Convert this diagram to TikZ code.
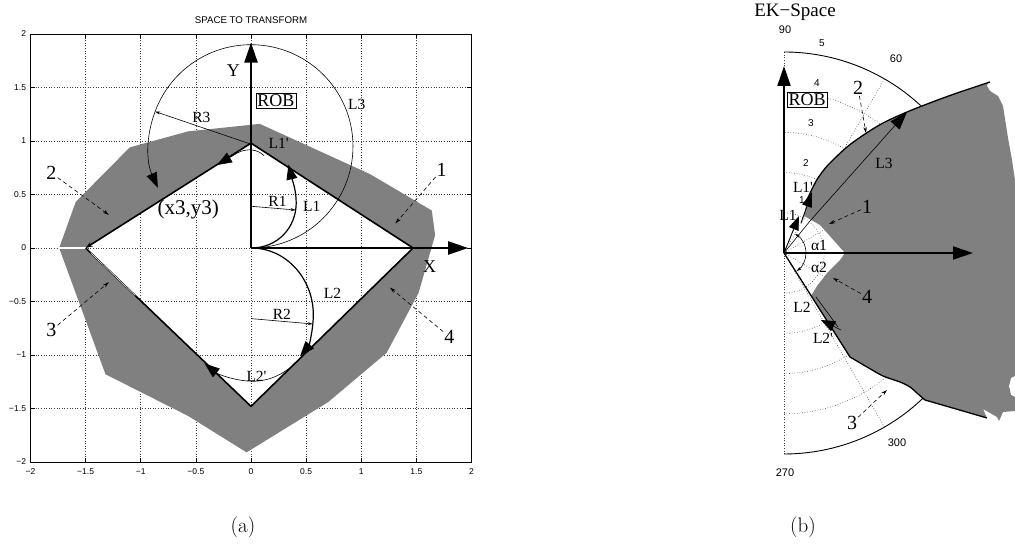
\documentclass[tikz,border=0pt]{standalone}
\usepackage{fontspec}
\usepackage{tikz}
\usetikzlibrary{arrows.meta, positioning, calc}
\newfontfamily\plotfont{Liberation Sans}
\newfontfamily\labfont{Liberation Serif}
\definecolor{regiongray}{HTML}{808080}

\begin{document}
\begin{tikzpicture}[
  x=1pt, y=1pt,
  img/.style={x=1pt, y=-1pt, yshift=545pt},
  ticklab/.style={font=\plotfont\fontsize{8.5}{9}\selectfont, inner sep=1pt},
  polarlab/.style={font=\plotfont\fontsize{11}{12}\selectfont, inner sep=0pt},
  radlab/.style={font=\plotfont\fontsize{10}{11}\selectfont, inner sep=0pt},
  biglab/.style={font=\labfont\fontsize{18}{19}\selectfont, inner sep=1pt},
  numlab/.style={font=\labfont\fontsize{20}{21}\selectfont, inner sep=1pt},
  lab/.style={font=\labfont\fontsize{15.5}{16}\selectfont, inner sep=0.5pt},
  sublab/.style={font=\fontsize{21}{25}\selectfont},
  gridline/.style={dotted, line width=0.6pt, black!75},
  axisarr/.style={line width=2.2pt, -{Triangle[length=20pt,width=13pt]}},
  rim/.style={line width=1.6pt},
  trace/.style={line width=1.2pt, -{Triangle[length=15pt,width=11pt]}},
  thintrace/.style={line width=0.6pt, -{Triangle[length=15pt,width=11pt]}},
  radline/.style={line width=0.6pt, -{Stealth[length=5pt,width=3pt]}},
  ptr/.style={line width=0.6pt, dash pattern=on 4pt off 3pt, -{Stealth[length=6pt,width=3.5pt]}},
  robbox/.style={draw, fill=white, line width=0.6pt, inner sep=1.5pt, font=\labfont\fontsize{18}{19}\selectfont}
]
\useasboundingbox (0,0) rectangle (1015,545);

% (a) space to transform
\begin{scope}[shift={(251pt,297pt)}, x=110.25pt, y=107pt]
  \foreach \v in {-1.5,-1,...,1.5} {
    \draw[gridline] (\v,-2) -- (\v,2);
    \draw[gridline] (-2,\v) -- (2,\v);
  }
  % shaded region
  \fill[regiongray, even odd rule]
    (-1.74,0) -- (-1.59,0.43) -- (-1.10,0.94) -- (-0.57,1.09) -- (0.08,1.16)
    -- (1.08,0.69) -- (1.64,0.35) -- (1.67,0.12) -- (1.52,-0.42) -- (1.23,-0.98)
    -- (0.70,-1.44) -- (-0.04,-1.91) -- (-0.57,-1.57) -- (-1.32,-1.18) -- cycle
    (1.47,0) -- (0,0.98) -- (-1.5,0) -- (0,-1.48) -- cycle;
  \draw[white, line width=1.2pt] (-1.74,0) -- (-1.5,0);
  % frame and ticks
  \draw[line width=0.8pt] (-2,-2) rectangle (2,2);
  \foreach \v/\t [count=\i] in {-2/−2,-1.5/−1.5,-1/−1,-0.5/−0.5,0/0,0.5/0.5,1/1,1.5/1.5,2/2} {
    \draw[line width=0.6pt] (\v,-2) -- ++(0,0.04) (\v,2) -- ++(0,-0.04)
                            (-2,\v) -- ++(0.04,0) (2,\v) -- ++(-0.04,0);
    \node[ticklab, anchor=north] (xt\i) at (\v,-2.05) {\t};
    \node[ticklab, anchor=east] (yt\i) at (-2.03,\v) {\t};
  }
  \node[font=\plotfont\fontsize{9.7}{10}\selectfont] (title) at (0,2.13) {SPACE TO TRANSFORM};
  % square path
  \coordinate (vr) at (1.47,0);
  \coordinate (vt) at (0,0.98);
  \coordinate (vl) at (-1.5,0);
  \coordinate (vb) at (0,-1.48);
  \coordinate (oa) at (0,0);
  \draw[rim] (vr) -- (vt);
  \draw[rim, -{Stealth[length=7pt,width=5pt]}] (vt) -- (vl);
  \draw[rim] (vl) -- (vb) -- (vr);
  \draw[white, line width=0.5pt] ($(vl)!0.03!(vb)$) -- ($(vl)!0.3!(vb)$);
  % axes
  \draw[axisarr] (oa) -- (0,1.92) coordinate (ya);
  \draw[axisarr] (oa) -- (1.97,0) coordinate (xa);
  % circles
  \draw[thintrace] (oa) arc[start angle=-90, end angle=204, x radius=0.925, y radius=0.95];
  \draw[radline] (0,0.97) -- ($(0,0.95)+(160:0.925 and 0.95)$);
  \draw[trace] (oa) .. controls (0.25,0) and (0.41,0.2) .. (0.41,0.42)
    .. controls (0.41,0.55) and (0.37,0.65) .. (0.34,0.78);
  \draw[thintrace] (0.12,0.86) .. controls (0.06,0.93) and (-0.05,0.93) .. (-0.12,0.89) -- (-0.31,0.775);
  \draw[radline] (0,0.39) -- (0.405,0.355);
  \draw[trace] (oa) .. controls (0.33,0) and (0.565,-0.3) .. (0.565,-0.62)
    .. controls (0.565,-0.78) and (0.52,-0.92) .. (0.445,-1.01);
  \draw[radline] (0,-0.66) -- (0.56,-0.71);
  \draw[thintrace] (0.40,-1.08) .. controls (0.25,-1.22) and (0.1,-1.25) .. (0,-1.245)
    .. controls (-0.15,-1.24) and (-0.3,-1.18) .. (-0.42,-1.08);
  % labels
  \node[biglab] (ylab) at (-0.16,1.66) {Y};
  \node[biglab] (xlab) at (1.62,-0.17) {X};
  \node[robbox] (roba) at (0.225,1.376) {ROB};
  \node[lab] (l3a) at (0.96,1.34) {L3};
  \node[lab] (r3a) at (-0.45,1.22) {R3};
  \node[lab] (l1pa) at (0.25,0.98) {L1'};
  \node[lab] (r1a) at (0.24,0.435) {R1};
  \node[lab] (l1a) at (0.55,0.39) {L1};
  \node[lab] (l2a) at (0.74,-0.42) {L2};
  \node[lab] (r2a) at (0.28,-0.62) {R2};
  \node[lab] (l2pa) at (0.05,-1.2) {L2'};
  \node[font=\labfont\fontsize{21}{22}\selectfont] (x3) at (-0.57,0.36) {(x3,y3)};
  \node[numlab] (n1a) at (1.73,0.73) {1};
  \node[numlab] (n2a) at (-1.81,0.70) {2};
  \node[numlab] (n3a) at (-1.81,-0.77) {3};
  \node[numlab] (n4a) at (1.80,-0.83) {4};
  \coordinate (t1a) at (1.31,0.23);
  \coordinate (t2a) at (-1.29,0.31);
  \coordinate (t3a) at (-1.29,-0.32);
  \coordinate (t4a) at (1.26,-0.37);
  \foreach \k in {1,...,4} \draw[ptr] (n\k a) -- (t\k a);
\end{scope}
\node[sublab] (capa) at (243,18) {(a)};

% (b) EK-space, polar grid
\begin{scope}[shift={(784pt,292pt)}]
  \foreach \r in {1,...,4}
    \draw[gridline] (-90:{\r*40.2}) arc[start angle=-90, end angle=90, radius=\r*40.2];
  \foreach \a in {-90,-60,-30,30,60,90}
    \draw[gridline] (0,0) -- (\a:201);
  \draw[line width=0.9pt] (90:201) arc[start angle=90, end angle=46, radius=201];
  \draw[line width=0.9pt] (-90:201) arc[start angle=-90, end angle=-46, radius=201];
\end{scope}

\begin{scope}[img]
  \node[polarlab] (p90) at (785,30) {90};
  \node[polarlab] (p60) at (896,59) {60};
  \node[polarlab] (p300) at (897,443) {300};
  \node[polarlab] (p270) at (785,473) {270};
  \node[radlab] (g5) at (822,43) {5};
  \node[radlab] (g4) at (817,83) {4};
  \node[radlab] (g3) at (811,123) {3};
  \node[radlab] (g2) at (806,163) {2};
  \node[radlab] (g1) at (802,200) {1};
  % shaded region
  \fill[regiongray] plot[smooth] coordinates {(988,83) (960,92) (935,101) (907,112) (883,123)
      (865,134) (847,147) (828,165) (818,178) (812,189) (807,202) (804,216)}
    -- (820,225) -- (845,253) -- (840,260) -- (828,272) -- (817,286) -- (811,296) -- (850,357)
    -- plot[smooth] coordinates {(850,357) (867,367) (883,376) (900,382) (910,387) (918,394) (925,400)}
    -- (987,418) -- (983,409) -- (997,417) -- (999,421) -- (1003,412) -- (1015,411)
    -- (1015,397) -- (1011,395) -- (1009,386) -- (1011,378) -- (1015,376) -- (1015,180)
    -- (1012,160) -- (1008,138) -- (1003,106) -- (998,96) -- (990,91) -- (987,86) -- cycle;
  \draw[line width=1.3pt] plot[smooth] coordinates {(990,82) (960,92) (935,101) (907,112) (883,123)
      (865,134) (847,147) (828,165) (818,178) (812,189) (807,200)};
  \coordinate (ob) at (784,253);
  \draw[line width=1.3pt] (ob) -- plot[smooth] coordinates {(850,357) (867,367) (883,376) (900,382)
      (910,387) (918,394) (925,400)} -- (987,418);
  % axes
  \draw[axisarr] (ob) -- (784,66);
  \draw[axisarr] (ob) -- (973,253);
  % vectors
  \draw[line width=0.6pt] (ob) -- (810,221);
  \draw[line width=0.9pt, -{Triangle[length=14pt,width=10pt]}] (ob) -- (799,216);
  \draw[line width=0.9pt, -{Triangle[length=15pt,width=10pt]}] (801,223) -- (812,192);
  \draw[line width=0.6pt, -{Triangle[length=18pt,width=12pt]}] (810,221) -- (907,112);
  \draw[line width=0.6pt] (816,297) -- (838,327);
  \draw[line width=0.6pt, -{Triangle[length=14pt,width=11pt]}] (841,330) -- (821,320);
  % labels
  \node[font=\labfont\fontsize{19}{20}\selectfont] (eks) at (795,12) {EK−Space};
  \node[robbox] (robb) at (807,100) {ROB};
  \node[lab] (l1b) at (788,215) {L1};
  \node[lab] (l1pb) at (803,187) {L1'};
  \node[lab] (l3b) at (884,163) {L3};
  \node[lab] (l2b) at (802,307) {L2};
  \node[lab] (l2pb) at (823,338) {L2'};
  \node[lab] (al1) at (819,245) {α1};
  \node[lab] (al2) at (819,267) {α2};
  \node[numlab] (n1b) at (867,207) {1};
  \node[numlab] (n2b) at (858,88) {2};
  \node[numlab] (n3b) at (852,423) {3};
  \node[numlab] (n4b) at (867,297) {4};
  \coordinate (t1b) at (829,224);
  \coordinate (t2b) at (866,133);
  \coordinate (t3b) at (887,390);
  \coordinate (t4b) at (833,278);
  \foreach \k in {1,...,4} \draw[ptr] (n\k b) -- (t\k b);
\end{scope}

\begin{scope}[shift={(784pt,292pt)}]
  \draw[line width=0.6pt, -{Stealth[length=5pt,width=3pt]}] (0:22) arc[start angle=0, end angle=60, radius=22];
  \draw[line width=0.6pt, -{Stealth[length=5pt,width=3pt]}] (0:22) arc[start angle=0, end angle=-55, radius=22];
\end{scope}
\node[sublab] (capb) at (803,18) {(b)};
\end{tikzpicture}
\end{document}
